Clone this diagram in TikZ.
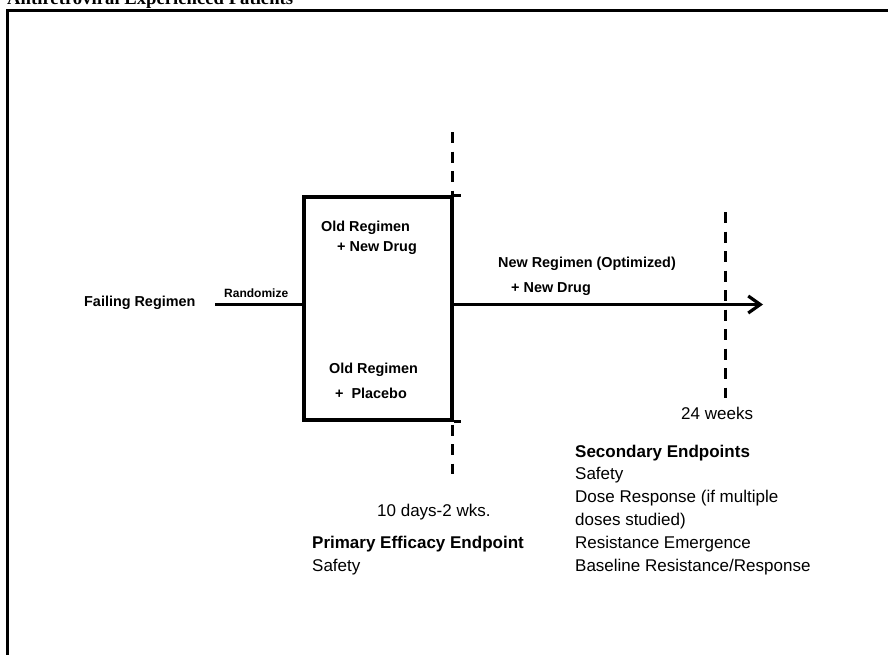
\documentclass[tikz,border=0pt]{standalone}
\usepackage{fontspec}
\setmainfont{Liberation Serif}
\setsansfont{Liberation Sans}
\usetikzlibrary{
  arrows.meta,
  positioning
}
\tikzset{
  frameline/.style={line width=3pt},
  boxline/.style={line width=3.2pt},
  armbox/.style={
    draw, line width=3.2pt, inner sep=0pt,
    minimum width=148pt, minimum height=223pt
  },
  cutline/.style={line width=3pt, dash pattern=on 11pt off 8.5pt},
  flow/.style={line width=3.2pt, -{Straight Barb[length=12pt, width=17pt]}},
  ttl/.style={font=\fontsize{18.7}{22}\selectfont\bfseries, inner sep=0pt, anchor=base west},
  lbl/.style={font=\fontsize{14.4}{17}\sffamily\bfseries, inner sep=0pt, anchor=base west},
  tinylbl/.style={lbl, font=\fontsize{12}{14}\sffamily\bfseries},
  note/.style={font=\fontsize{17}{20}\sffamily, inner sep=0pt, anchor=base west},
  notehead/.style={note, font=\fontsize{17}{20}\sffamily\bfseries}
}
\begin{document}
\begin{tikzpicture}[x=1pt, y=-1pt]
  \useasboundingbox (0,0) rectangle (888,654);
  \node[ttl] (title) at (7,4.5) {Antiretroviral Experienced Patients};
  \draw[frameline] (890,10) -- (7.5,10) -- (7.5,660);

  % arms of the study
  \node[armbox] (arms) at (378,308.5) {};
  \draw[boxline] (arms.north east) -- ++(7,0);
  \draw[boxline] (arms.south east) -- ++(7,0);
  \node[lbl] (oldA) at (321,231) {Old Regimen};
  \node[lbl] (drugA) at (337,251) {+ New Drug};
  \node[lbl] (oldB) at (329,373) {Old Regimen};
  \node[lbl] (drugB) at (335,398) {+\ \ Placebo};

  \node[lbl] (fail) at (84,306) {Failing Regimen};
  \coordinate (rz) at (215,304.5);
  \draw[boxline] (rz) -- (rz -| arms.west);
  \node[tinylbl] (rand) at (224,297) {Randomize};

  \coordinate (tip) at (763,304.5);
  \draw[flow] (rz -| arms.east) -- (tip);
  \node[lbl] (newreg) at (498,267) {New Regimen (Optimized)};
  \node[lbl] (drugC) at (511,292) {+ New Drug};

  % time points
  \coordinate (t1a) at (452,132);
  \coordinate (t1b) at (452,474);
  \draw[cutline] (t1a) -- (t1b);
  \coordinate (t2a) at (725.5,212);
  \coordinate (t2b) at (725.5,398);
  \draw[cutline] (t2a) -- (t2b);

  \node[note] (wk2) at (377,516) {10 days-2 wks.};
  \node[notehead] (prim) at (312,548) {Primary Efficacy Endpoint};
  \node[note] (primA) at (312,571) {Safety};

  \node[note] (wk24) at (681,419) {24 weeks};
  \node[notehead] (sec) at (575,457) {Secondary Endpoints};
  \node[note] (secA) at (575,479.5) {Safety};
  \node[note] (secB) at (575,502.5) {Dose Response (if multiple};
  \node[note] (secC) at (575,525) {doses studied)};
  \node[note] (secD) at (575,548) {Resistance Emergence};
  \node[note] (secE) at (575,571) {Baseline Resistance/Response};
\end{tikzpicture}
\end{document}
